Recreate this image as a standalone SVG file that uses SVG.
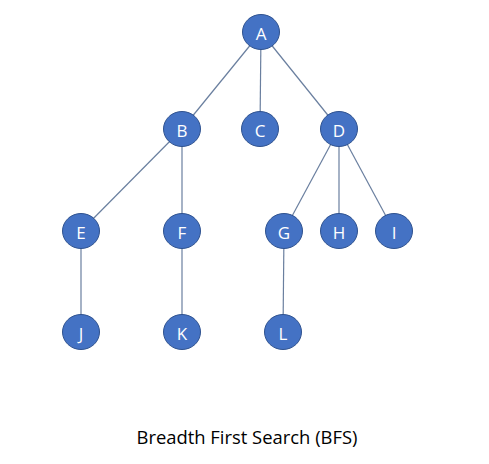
<svg xmlns="http://www.w3.org/2000/svg" width="489" height="464" viewBox="0 0 489 464">
<style>
.n ellipse{fill:#4472C4;stroke:#2F528F;stroke-width:1}
.n text{fill:#fff;font-family:"Open Sans","Liberation Sans",sans-serif;font-size:17px;text-anchor:middle;dominant-baseline:central}
.e line{stroke:#6a7f9f;stroke-width:1.2}
.t{font-family:"Open Sans","Liberation Sans",sans-serif;font-size:18.5px;fill:#000;text-anchor:middle}
</style>
<rect width="489" height="464" fill="#fff"/>
<g id="connectors" class="e">
<line x1="261" y1="32" x2="182" y2="129"/>
<line x1="261" y1="32" x2="260" y2="129"/>
<line x1="261" y1="32" x2="339" y2="129"/>
<line x1="182" y1="129" x2="81" y2="231"/>
<line x1="182" y1="129" x2="182" y2="231"/>
<line x1="339" y1="129" x2="284" y2="231"/>
<line x1="339" y1="129" x2="339" y2="231"/>
<line x1="339" y1="129" x2="394" y2="231"/>
<line x1="81" y1="231" x2="81" y2="332"/>
<line x1="182" y1="231" x2="182" y2="332"/>
<line x1="284" y1="231" x2="283" y2="332"/>
</g>
<g id="A" class="n"><ellipse cx="261" cy="32" rx="18.5" ry="17.5"/><text x="261" y="33">A</text></g>
<g id="B" class="n"><ellipse cx="182" cy="129" rx="18.5" ry="17.5"/><text x="182" y="130">B</text></g>
<g id="C" class="n"><ellipse cx="260" cy="129" rx="18.5" ry="17.5"/><text x="260" y="130">C</text></g>
<g id="D" class="n"><ellipse cx="339" cy="129" rx="18.5" ry="17.5"/><text x="339" y="130">D</text></g>
<g id="E" class="n"><ellipse cx="81" cy="231" rx="18.5" ry="17.5"/><text x="81" y="232">E</text></g>
<g id="F" class="n"><ellipse cx="182" cy="231" rx="18.5" ry="17.5"/><text x="182" y="232">F</text></g>
<g id="G" class="n"><ellipse cx="284" cy="231" rx="18.5" ry="17.5"/><text x="284" y="232">G</text></g>
<g id="H" class="n"><ellipse cx="339" cy="231" rx="18.5" ry="17.5"/><text x="339" y="232">H</text></g>
<g id="I" class="n"><ellipse cx="394" cy="231" rx="18.5" ry="17.5"/><text x="394" y="232">I</text></g>
<g id="J" class="n"><ellipse cx="81" cy="332" rx="18.5" ry="17.5"/><text x="81" y="333">J</text></g>
<g id="K" class="n"><ellipse cx="182" cy="332" rx="18.5" ry="17.5"/><text x="182" y="333">K</text></g>
<g id="L" class="n"><ellipse cx="283" cy="332" rx="18.5" ry="17.5"/><text x="283" y="333">L</text></g>
<text class="t" x="247" y="444" textLength="221" lengthAdjust="spacingAndGlyphs">Breadth First Search (BFS)</text>
</svg>
